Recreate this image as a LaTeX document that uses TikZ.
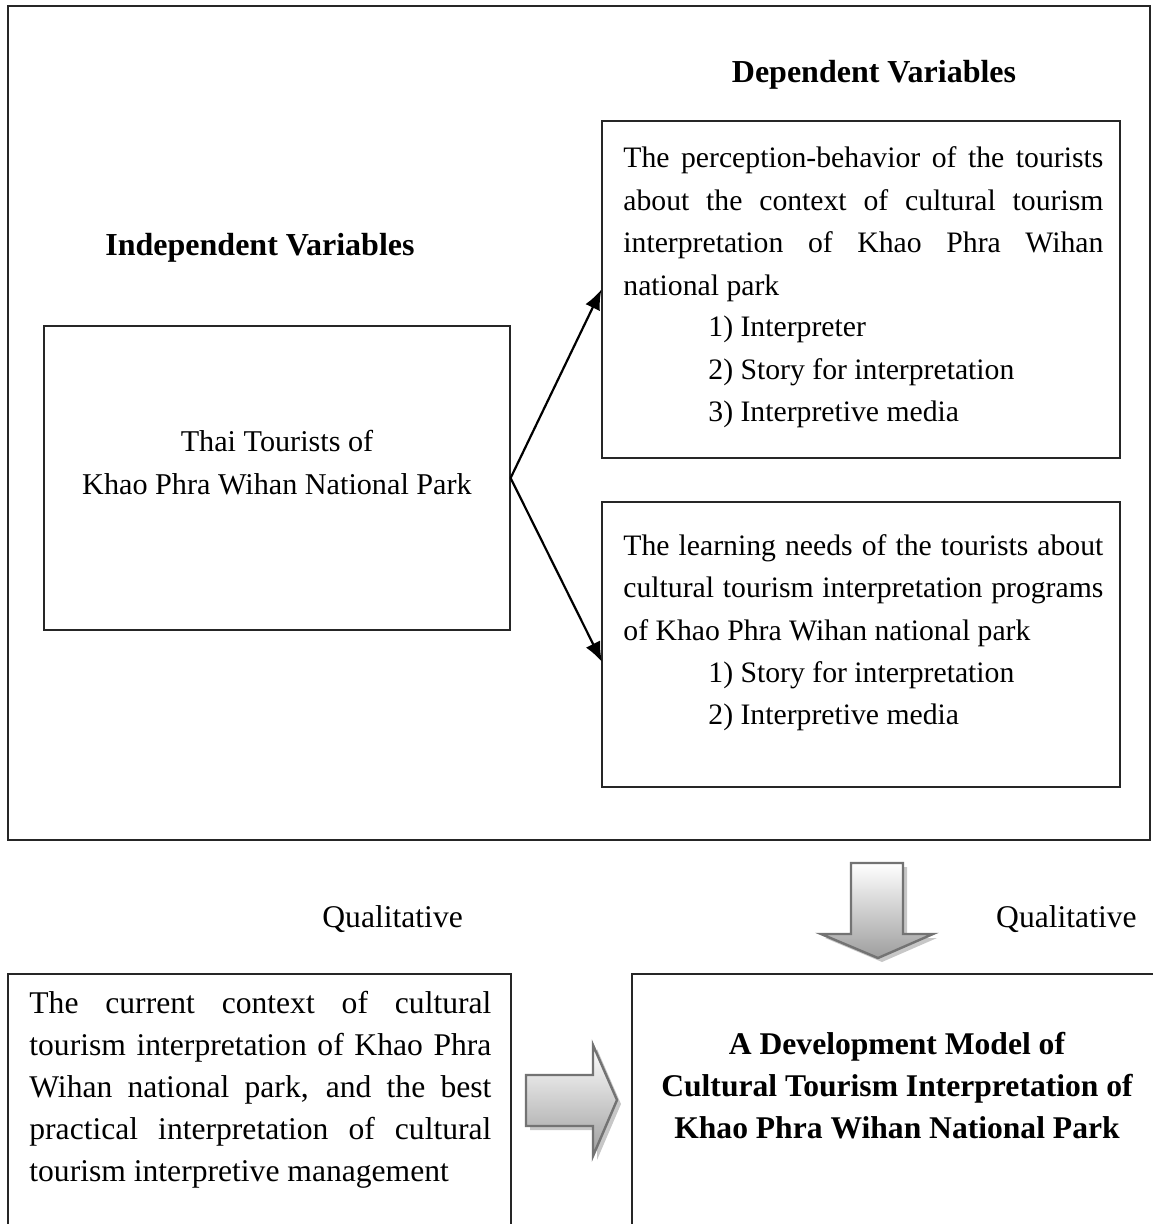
\documentclass[tikz,border=0pt]{standalone}
\usepackage{fontspec}
\setmainfont{Liberation Serif}
\usetikzlibrary{arrows.meta,calc}
% a justified line of a given width
\newcommand{\jline}[2]{\makebox[#1][s]{#2}}
\begin{document}
\begin{tikzpicture}[x=0.5pt,y=-0.5pt,
  box/.style={draw=black!85, line width=0.6pt, inner sep=0pt, rectangle},
  txt/.style={inner sep=0pt, font=\fontsize{15.1}{21.25}\selectfont},
  dtxt/.style={inner sep=0pt, font=\fontsize{14.85}{21.25}\selectfont},
  btxt/.style={inner sep=0pt, font=\fontsize{15.8}{21}\selectfont},
  head/.style={inner sep=0pt, font=\fontsize{16}{21}\selectfont\bfseries},
  conn/.style={draw=black, line width=1.1pt, -{Latex[length=10pt,width=8pt]}},
  blockarrow/.style={draw=black!55, line width=1.2pt, top color=white, bottom color=black!38},
  arrowshadow/.style={fill=black!22}
]
\useasboundingbox (0,0) rectangle (1152,1224);

% upper frame holding the variables
\node[box, minimum width=571pt, minimum height=417pt] (outer) at (579,423) {};

\node[head, anchor=base] (deph) at (874,83) {Dependent Variables};
\node[head, anchor=base] (indh) at (260,256) {Independent Variables};

% independent variable (multi-line nodes are placed by the baseline of their last line)
\node[box, minimum width=233pt, minimum height=152pt] (left) at (277,478) {};
\node[txt, anchor=base, align=center] (lefttxt) at (277,494.5)
  {Thai Tourists of\\Khao Phra Wihan National Park};

% dependent variables
\node[box, minimum width=259pt, minimum height=168.5pt] (dep1) at (861,289.5) {};
\node[dtxt, anchor=base west, align=left] (dep1txt) at (623,295.5)
  {\jline{240pt}{The perception-behavior of the tourists}\\
   \jline{240pt}{about the context of cultural tourism}\\
   \jline{240pt}{interpretation of Khao Phra Wihan}\\
   national park};
\node[dtxt, anchor=base west, align=left] (dep1items) at (708,422)
  {1) Interpreter\\2) Story for interpretation\\3) Interpretive media};

\node[box, minimum width=259pt, minimum height=142.5pt] (dep2) at (861,644.5) {};
\node[dtxt, anchor=base west, align=left] (dep2txt) at (623,640)
  {\jline{240pt}{The learning needs of the tourists about}\\
   \jline{240pt}{cultural tourism interpretation programs}\\
   of Khao Phra Wihan national park};
\node[dtxt, anchor=base west, align=left] (dep2items) at (708,724.5)
  {1) Story for interpretation\\2) Interpretive media};

\coordinate (t2) at (602,662);
\draw[conn] (left.east) -- (dep1.west);
\draw[conn] (left.east) -- (t2);

% qualitative stage
\node[btxt, anchor=base west] (q1) at (322,927) {Qualitative};
\node[btxt, anchor=base east] (q2) at (1137,927) {Qualitative};

\node[box, minimum width=251.5pt, minimum height=133pt] (ctx) at (259.5,1107) {};
\node[btxt, anchor=base west, align=left] (ctxtxt) at (29,1181)
  {\jline{231pt}{The current context of cultural}\\
   \jline{231pt}{tourism interpretation of Khao Phra}\\
   \jline{231pt}{Wihan national park, and the best}\\
   \jline{231pt}{practical interpretation of cultural}\\
   tourism interpretive management};

\node[box, minimum width=265pt, minimum height=133pt] (model) at (897,1107) {};
\node[btxt, font=\fontsize{15.8}{20.8}\selectfont\bfseries, anchor=base, align=center] (modeltxt) at (897,1138)
  {A Development Model of\\Cultural Tourism Interpretation of\\Khao Phra Wihan National Park};

% block arrows with soft shadow
\fill[arrowshadow, shift={(4,4)}]
  (851,863) -- (903,863) -- (903,934) -- (933,934) -- (878,958) -- (821,934) -- (851,934) -- cycle;
\path[blockarrow]
  (851,863) -- (903,863) -- (903,934) -- (933,934) -- (878,958) -- (821,934) -- (851,934) -- cycle;

\fill[arrowshadow, shift={(4,4)}]
  (526,1075) -- (593,1075) -- (593,1045) -- (617,1100) -- (593,1156) -- (593,1126) -- (526,1126) -- cycle;
\path[blockarrow]
  (526,1075) -- (593,1075) -- (593,1045) -- (617,1100) -- (593,1156) -- (593,1126) -- (526,1126) -- cycle;
\end{tikzpicture}
\end{document}
